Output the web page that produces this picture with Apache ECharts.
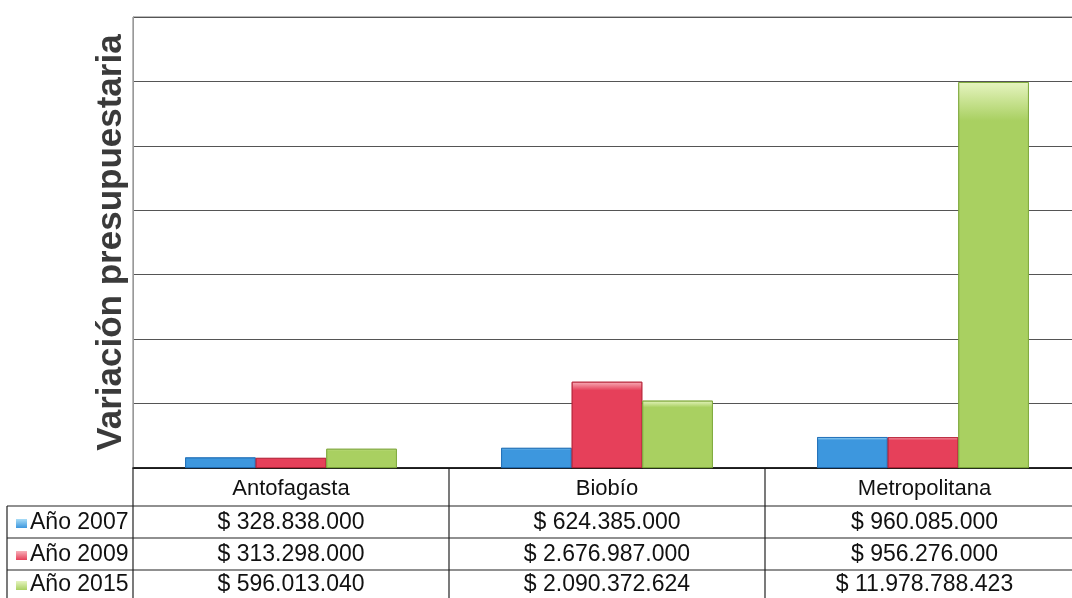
<!DOCTYPE html>
<html>
<head>
<meta charset="utf-8">
<script src="https://cdn.jsdelivr.net/npm/echarts@6/dist/echarts.min.js"></script>
<style>
    html, body { margin: 0; background: #fff; }
    #main { width: 1072px; height: 598px; }
</style>
</head>
<body>
<div id="main"></div>
<script>
var regiones = ['Antofagasta', 'Biobío', 'Metropolitana'];
var anios = ['Año 2007', 'Año 2009', 'Año 2015'];
var valores2007 = [328838000, 624385000, 960085000];
var valores2009 = [313298000, 2676987000, 956276000];
var valores2015 = [596013040, 2090372624, 11978788423];
var series = [valores2007, valores2009, valores2015];

var colores = [
    ['#a8dcf6', '#3d97de', '#1f6fb8'],
    ['#f7b0b9', '#e6405a', '#b8243a'],
    ['#e6f4c0', '#a9d061', '#7ea83a']
];

function formatoPeso(v) {
    return '$ ' + String(v).replace(/\B(?=(\d{3})+(?!\d))/g, '.');
}

var chart = echarts.init(document.getElementById('main'));

var gridTop = 17, gridHeight = 451, gridLeft = 133, gridWidth = 948;

var option = {
    animation: false,
    grid: {
        left: gridLeft,
        top: gridTop,
        width: gridWidth,
        height: gridHeight,
        outerBoundsMode: 'none',
        containLabel: false,
        show: true,
        borderColor: '#777',
        borderWidth: 1
    },
    xAxis: {
        type: 'category',
        data: regiones,
        axisLine: { show: true, lineStyle: { color: '#111', width: 1.5 } },
        axisTick: { show: false },
        axisLabel: { show: false }
    },
    yAxis: {
        type: 'value',
        min: 0,
        max: 14000000000,
        interval: 2000000000,
        name: 'Variación presupuestaria',
        nameLocation: 'middle',
        nameGap: 4,
        nameTextStyle: {
            fontFamily: 'Liberation Sans',
            fontSize: 35,
            fontWeight: 'bold',
            color: '#3a3a3a'
        },
        axisLine: { show: true, lineStyle: { color: '#999' } },
        axisTick: { show: false },
        axisLabel: { show: false },
        splitLine: { lineStyle: { color: '#555', width: 1 } }
    },
    series: series.map(function (datos, i) {
        return {
            name: anios[i],
            type: 'bar',
            data: datos,
            barGap: '0%',
            barCategoryGap: '33%',
            itemStyle: {
                borderColor: colores[i][2],
                borderWidth: 0.8,
                color: new echarts.graphic.LinearGradient(0, 0, 0, 1, [
                    { offset: 0, color: colores[i][0] },
                    { offset: 0.1, color: colores[i][1] },
                    { offset: 1, color: colores[i][1] }
                ])
            }
        };
    })
};

chart.setOption(option);

// tabla de datos bajo el eje
var filas = [468, 506, 538, 570, 598];
var banda = gridWidth / regiones.length;
var bordes = regiones.map(function (r, i) {
    return chart.convertToPixel({ xAxisIndex: 0 }, i) - banda / 2;
});
var xLeyenda = 7;
var graficos = [];
var estiloLinea = { stroke: '#222', lineWidth: 1.2 };
var fuente = '23px "Liberation Sans", Arial, sans-serif';

function linea(x1, y1, x2, y2) {
    graficos.push({ type: 'line', shape: { x1: x1, y1: y1, x2: x2, y2: y2 }, style: estiloLinea, silent: true });
}

linea(gridLeft, filas[0], 1072, filas[0]);
for (var f = 1; f < filas.length - 1; f++) {
    linea(xLeyenda, filas[f], 1072, filas[f]);
}
linea(xLeyenda, filas[1], xLeyenda, 598);
bordes.forEach(function (x) { linea(x, filas[0], x, 598); });

regiones.forEach(function (r, i) {
    var cx = bordes[i] + banda / 2;
    if (i === regiones.length - 1) cx = (bordes[i] + 1072) / 2 + 6;
    graficos.push({
        type: 'text', silent: true,
        style: { x: cx, y: (filas[0] + filas[1]) / 2 + 2, text: r, align: 'center', verticalAlign: 'middle', font: '22px "Liberation Sans", Arial, sans-serif', fill: '#111' }
    });
    series.forEach(function (datos, s) {
        graficos.push({
            type: 'text', silent: true,
            style: { x: cx, y: (filas[s + 1] + filas[s + 2]) / 2 + 1, text: formatoPeso(datos[i]), align: 'center', verticalAlign: 'middle', font: fuente, fill: '#111' }
        });
    });
});

anios.forEach(function (a, s) {
    var cy = (filas[s + 1] + filas[s + 2]) / 2 + 1;
    graficos.push({
        type: 'rect', silent: true,
        shape: { x: 16, y: cy - 4, width: 11, height: 9 },
        style: {
            fill: new echarts.graphic.LinearGradient(0, 0, 0, 1, [
                { offset: 0, color: colores[s][0] },
                { offset: 1, color: colores[s][1] }
            ])
        }
    });
    graficos.push({
        type: 'text', silent: true,
        style: { x: 30, y: cy, text: a, align: 'left', verticalAlign: 'middle', font: fuente, fill: '#111' }
    });
});

chart.setOption({ graphic: { elements: graficos } });
</script>
</body>
</html>
